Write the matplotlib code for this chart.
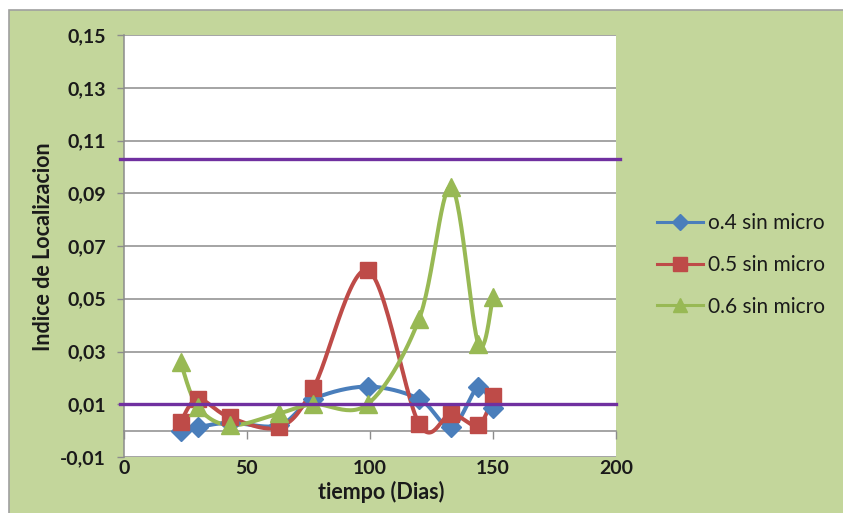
import numpy as np
import matplotlib
matplotlib.use("Agg")
import matplotlib.pyplot as plt
from matplotlib.patches import Rectangle
from matplotlib.ticker import FuncFormatter

plt.rcParams['font.family'] = ['Lato', 'DejaVu Sans']

dias = [23, 30, 43, 63, 77, 99, 120, 133, 144, 150]
serie_04 = [0.0000, 0.0013, 0.0030, 0.0020, 0.0120, 0.0167, 0.0120, 0.0013, 0.0165, 0.0085]
serie_05 = [0.0032, 0.0120, 0.0050, 0.0013, 0.0162, 0.0608, 0.0025, 0.0063, 0.0020, 0.0133]
serie_06 = [0.0260, 0.0090, 0.0020, 0.0065, 0.0100, 0.0100, 0.0424, 0.0925, 0.0330, 0.0505]
nombres = ["o.4 sin micro", "0.5 sin micro", "0.6 sin micro"]

limite_sup = 0.103
limite_inf = 0.010

y_ticks = np.arange(-0.01, 0.151, 0.02)
x_ticks = [0, 50, 100, 150, 200]


def suavizar(x, y, n=30):
    # Bezier smoothing with Catmull-Rom control points (like Excel smoothed lines)
    p = np.column_stack([x, y]).astype(float)
    p = np.vstack([p[0], p, p[-1]])
    t = np.linspace(0, 1, n)[:, None]
    out = []
    for i in range(1, len(p) - 2):
        p0, p1, p2, p3 = p[i - 1], p[i], p[i + 1], p[i + 2]
        c1 = p1 + (p2 - p0) / 6
        c2 = p2 - (p3 - p1) / 6
        seg = ((1 - t) ** 3) * p1 + 3 * ((1 - t) ** 2) * t * c1 + 3 * (1 - t) * t ** 2 * c2 + t ** 3 * p2
        out.append(seg if i == 1 else seg[1:])
    out = np.vstack(out)
    return out[:, 0], out[:, 1]


fig = plt.figure(figsize=(8.43, 5.13), dpi=100)
fig.patch.set_facecolor('white')
fig.patches.append(Rectangle((9 / 843, -0.1), 1.2, 1 - 10 / 513 + 0.1, transform=fig.transFigure,
                             facecolor='#c3d69b', edgecolor='#a0a0a0', linewidth=1.2, zorder=-10))

ax = fig.add_axes([124 / 843, 1 - 457 / 513, 492 / 843, 422 / 513])
ax.set_facecolor('white')
ax.set_xlim(0, 200)
ax.set_ylim(-0.01, 0.15)

gris = '#8c8c8c'
texto = '#1a1a1a'
ax.set_yticks(y_ticks)
ax.yaxis.set_major_formatter(FuncFormatter(lambda v, pos: f"{v:.2f}".replace('.', ',')))
ax.grid(axis='y', color=gris, linewidth=1.1)
ax.set_axisbelow(True)
ax.tick_params(axis='y', length=5, width=1, color=gris, pad=8, labelsize=14, labelcolor=texto)
for lab in ax.get_yticklabels():
    lab.set_fontweight('bold')

for s in ['top', 'right']:
    ax.spines[s].set_visible(False)
ax.spines['left'].set_color(gris)
ax.spines['left'].set_linewidth(1.1)
ax.spines['bottom'].set_position(('data', 0))
ax.spines['bottom'].set_color(gris)
ax.spines['bottom'].set_linewidth(1.1)
ax.set_xticks(x_ticks)
ax.tick_params(axis='x', length=6, width=1, color=gris, labelbottom=False)

sec = ax.secondary_xaxis(0)
sec.set_xticks(x_ticks)
sec.spines['bottom'].set_visible(False)
sec.tick_params(axis='x', length=0, pad=2, labelsize=14, labelcolor=texto)
for lab in sec.get_xticklabels():
    lab.set_fontweight('bold')

estilos = [
    (serie_04, '#4a7ebb', 'D', 10),
    (serie_05, '#be4b48', 's', 11.5),
    (serie_06, '#98b954', '^', 12.5),
]
for (vals, color, mk, ms), nombre in zip(estilos, nombres):
    xs, ys = suavizar(dias, vals)
    ax.plot(xs, ys, color=color, linewidth=2.9, solid_capstyle='round', clip_on=False, zorder=3)
    ax.plot(dias, vals, linestyle='none', marker=mk, markersize=ms, color=color, clip_on=False, zorder=4)
    ax.plot([], [], color=color, linewidth=2.2, marker=mk, markersize=ms * 0.85, label=nombre)

ax.plot([-1.6, 201.6], [limite_sup, limite_sup], color='#7030a0', linewidth=2.4, clip_on=False, zorder=5)
ax.plot([-1.6, 200], [limite_inf, limite_inf], color='#7030a0', linewidth=2.4, clip_on=False, zorder=5)

fig.text(44 / 843, 1 - 247 / 513, "Indice de Localizacion", rotation=90, ha='center', va='center',
         fontsize=15.5, fontweight='bold', color=texto)
fig.text(381 / 843, 1 - 492 / 513, "tiempo (Dias)", ha='center', va='center',
         fontsize=15.5, fontweight='bold', color=texto)

leg = fig.legend(loc='upper left', bbox_to_anchor=(657 / 843, 1 - 213 / 513), frameon=False,
                 fontsize=15, handlelength=2.2, handletextpad=0.25, labelspacing=1.05, borderpad=0,
                 borderaxespad=0)
for t in leg.get_texts():
    t.set_color(texto)

fig.savefig('out.png', dpi=100, facecolor=fig.get_facecolor())
